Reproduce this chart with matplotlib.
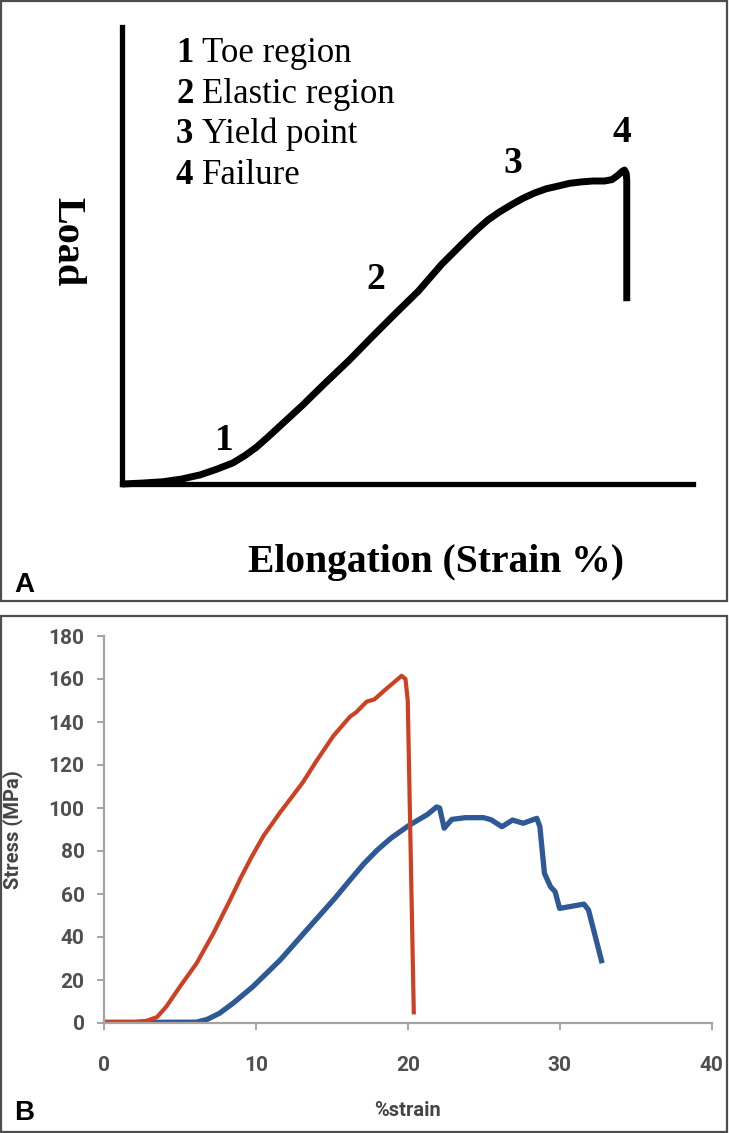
import matplotlib

matplotlib.use("Agg")
import matplotlib.pyplot as plt
from matplotlib.patches import Rectangle

W, H = 729, 1133

# Panel A: schematic load-elongation curve (axis units 0-100 on both axes)
curve_x = [0.0, 3.5, 7.2, 10.5, 13.7, 16.5, 19.4, 21.5, 23.5, 25.5, 27.5, 31.5,
           35.6, 39.8, 43.8, 47.8, 51.9, 56.0, 60.1, 62.1, 64.1, 66.2, 68.2, 70.2,
           72.3, 74.3, 76.4, 78.4, 80.4, 82.5, 84.5, 85.8, 86.8, 87.6, 88.0, 88.3,
           88.4, 88.4]
curve_y = [0.0, 0.2, 0.5, 1.1, 2.0, 3.2, 4.6, 6.2, 8.0, 10.2, 12.5, 17.1,
           22.1, 27.1, 32.2, 37.2, 42.2, 48.1, 53.2, 55.6, 57.8, 59.6, 61.1, 62.5,
           63.7, 64.6, 65.2, 65.8, 66.1, 66.3, 66.3, 66.6, 67.5, 68.4, 68.7, 68.0,
           66.5, 40.0]
point_labels = ["1", "2", "3", "4"]
point_x = [18.0, 44.4, 68.5, 87.6]
point_y = [9.6, 44.7, 70.2, 77.0]
legend_nums = ["1", "2", "3", "4"]
legend_text = ["Toe region", "Elastic region", "Yield point", "Failure"]

# Panel B: measured stress-strain curves
red_x = [0.0, 2.0, 2.8, 3.5, 4.1, 5.0, 6.1, 7.2, 8.3, 9.0, 9.7, 10.5, 11.6, 12.3,
         13.1, 14.0, 15.1, 16.2, 16.6, 17.3, 17.8, 18.6, 19.6, 19.85, 20.0, 20.4]
red_y = [0.5, 0.5, 1.0, 2.8, 7.6, 16.9, 27.8, 41.7, 57.2, 67.5, 77.0, 87.0, 98.0,
         104.5, 112.0, 122.0, 133.5, 142.5, 144.5, 149.5, 150.5, 155.5, 161.5,
         160.0, 150.0, 4.0]
blue_x = [0.0, 2.8, 6.1, 6.8, 7.6, 8.5, 9.8, 11.6, 13.5, 15.2, 16.2, 17.1, 18.0,
          18.9, 20.1, 21.3, 21.9, 22.1, 22.4, 22.9, 23.8, 25.0, 25.5, 26.2, 26.9,
          27.6, 28.5, 28.7, 29.0, 29.4, 29.7, 30.0, 31.6, 31.9, 32.8]
blue_y = [0.3, 0.3, 0.4, 1.7, 4.5, 9.2, 16.9, 29.3, 44.5, 58.0, 66.5, 74.0, 80.5,
          86.0, 92.0, 97.0, 100.5, 100.0, 90.6, 94.7, 95.5, 95.5, 94.5, 91.3, 94.4,
          92.9, 95.2, 91.3, 69.6, 63.4, 61.1, 53.3, 55.3, 52.6, 27.8]
x_ticks = [0, 10, 20, 30, 40]
y_ticks = [0, 20, 40, 60, 80, 100, 120, 140, 160, 180]

RED = "#cc4122"
BLUE = "#2f5896"
AXIS_GREY = "#a8a2a2"
TICK_TEXT = "#4f4f4f"
SERIF = "Liberation Serif"
SANS_B = "Roboto"


def fx(x):
    return x / W


def fy(y):
    return 1 - y / H


fig = plt.figure(figsize=(W / 100, H / 100), dpi=100)

# panel frames
for top, bottom in [(1, 601), (616, 1132)]:
    fig.add_artist(Rectangle((fx(1), fy(bottom)), fx(726), (bottom - top) / H,
                             transform=fig.transFigure, fill=False,
                             edgecolor="#4d4d4d", linewidth=1.6))

# ---- panel A ----
ax_a = fig.add_axes([fx(122), fy(484), (693 - 122) / W, (484 - 27) / H])
ax_a.set_xlim(0, 100)
ax_a.set_ylim(0, 100)
for side in ("top", "right"):
    ax_a.spines[side].set_visible(False)
for side in ("left", "bottom"):
    ax_a.spines[side].set_linewidth(3.8)
    ax_a.spines[side].set_color("black")
    ax_a.spines[side].set_capstyle("projecting")
ax_a.set_xticks([])
ax_a.set_yticks([])
ax_a.patch.set_alpha(0)
ax_a.plot(curve_x, curve_y, color="black", linewidth=5.0,
          solid_capstyle="butt", solid_joinstyle="round", clip_on=False)
for lab, x, y in zip(point_labels, point_x, point_y):
    ax_a.text(x, y, lab, ha="center", va="center", family=SERIF,
              fontweight="bold", fontsize=27)

for i, (num, txt) in enumerate(zip(legend_nums, legend_text)):
    base = 62 + i * 40.7
    fig.text(fx(176), fy(base), num, family=SERIF, fontweight="bold",
             fontsize=25, va="baseline", ha="left")
    fig.text(fx(202), fy(base), txt, family=SERIF, fontsize=25,
             va="baseline", ha="left")

fig.text(fx(67), fy(242), "Load", family=SERIF, fontweight="bold",
         fontsize=29, rotation=270, ha="center", va="center")
fig.text(fx(436), fy(572), "Elongation (Strain %)", family=SERIF,
         fontweight="bold", fontsize=28.5, ha="center", va="baseline")
fig.text(fx(14), fy(592), "A", family="Liberation Sans", fontweight="bold",
         fontsize=20, ha="left", va="baseline")

# ---- panel B ----
ax_b = fig.add_axes([fx(104), fy(1023), (711.5 - 104) / W, (1023 - 636) / H])
ax_b.plot(blue_x, blue_y, color=BLUE, linewidth=3.8, solid_joinstyle="round",
          solid_capstyle="butt")
ax_b.plot(red_x, red_y, color=RED, linewidth=3.0, solid_joinstyle="round",
          solid_capstyle="butt")
ax_b.set_xlim(0, 40)
ax_b.set_ylim(0, 180)
ax_b.set_xticks(x_ticks)
ax_b.set_yticks(y_ticks)
for side in ("top", "right"):
    ax_b.spines[side].set_visible(False)
for side in ("left", "bottom"):
    ax_b.spines[side].set_color(AXIS_GREY)
    ax_b.spines[side].set_linewidth(1.6)
ax_b.tick_params(axis="both", direction="out", length=5, width=1.4,
                 color=AXIS_GREY, labelcolor=TICK_TEXT)
ax_b.tick_params(axis="x", pad=19)
ax_b.tick_params(axis="y", pad=9)
for lab in ax_b.get_xticklabels() + ax_b.get_yticklabels():
    lab.set_family(SANS_B)
    lab.set_fontweight("bold")
    lab.set_fontsize(15)

fig.text(fx(407), fy(1111), "%strain", family=SANS_B, fontweight="bold",
         fontsize=14.5, color="#444444", ha="center", va="center")
fig.text(fx(13), fy(830), "Stress (MPa)", family=SANS_B, fontweight="bold",
         fontsize=14.5, color="#444444", rotation=90, ha="center", va="center")
fig.text(fx(14), fy(1120), "B", family="Liberation Sans", fontweight="bold",
         fontsize=20, ha="left", va="baseline")

fig.savefig("out.png", dpi=100)
